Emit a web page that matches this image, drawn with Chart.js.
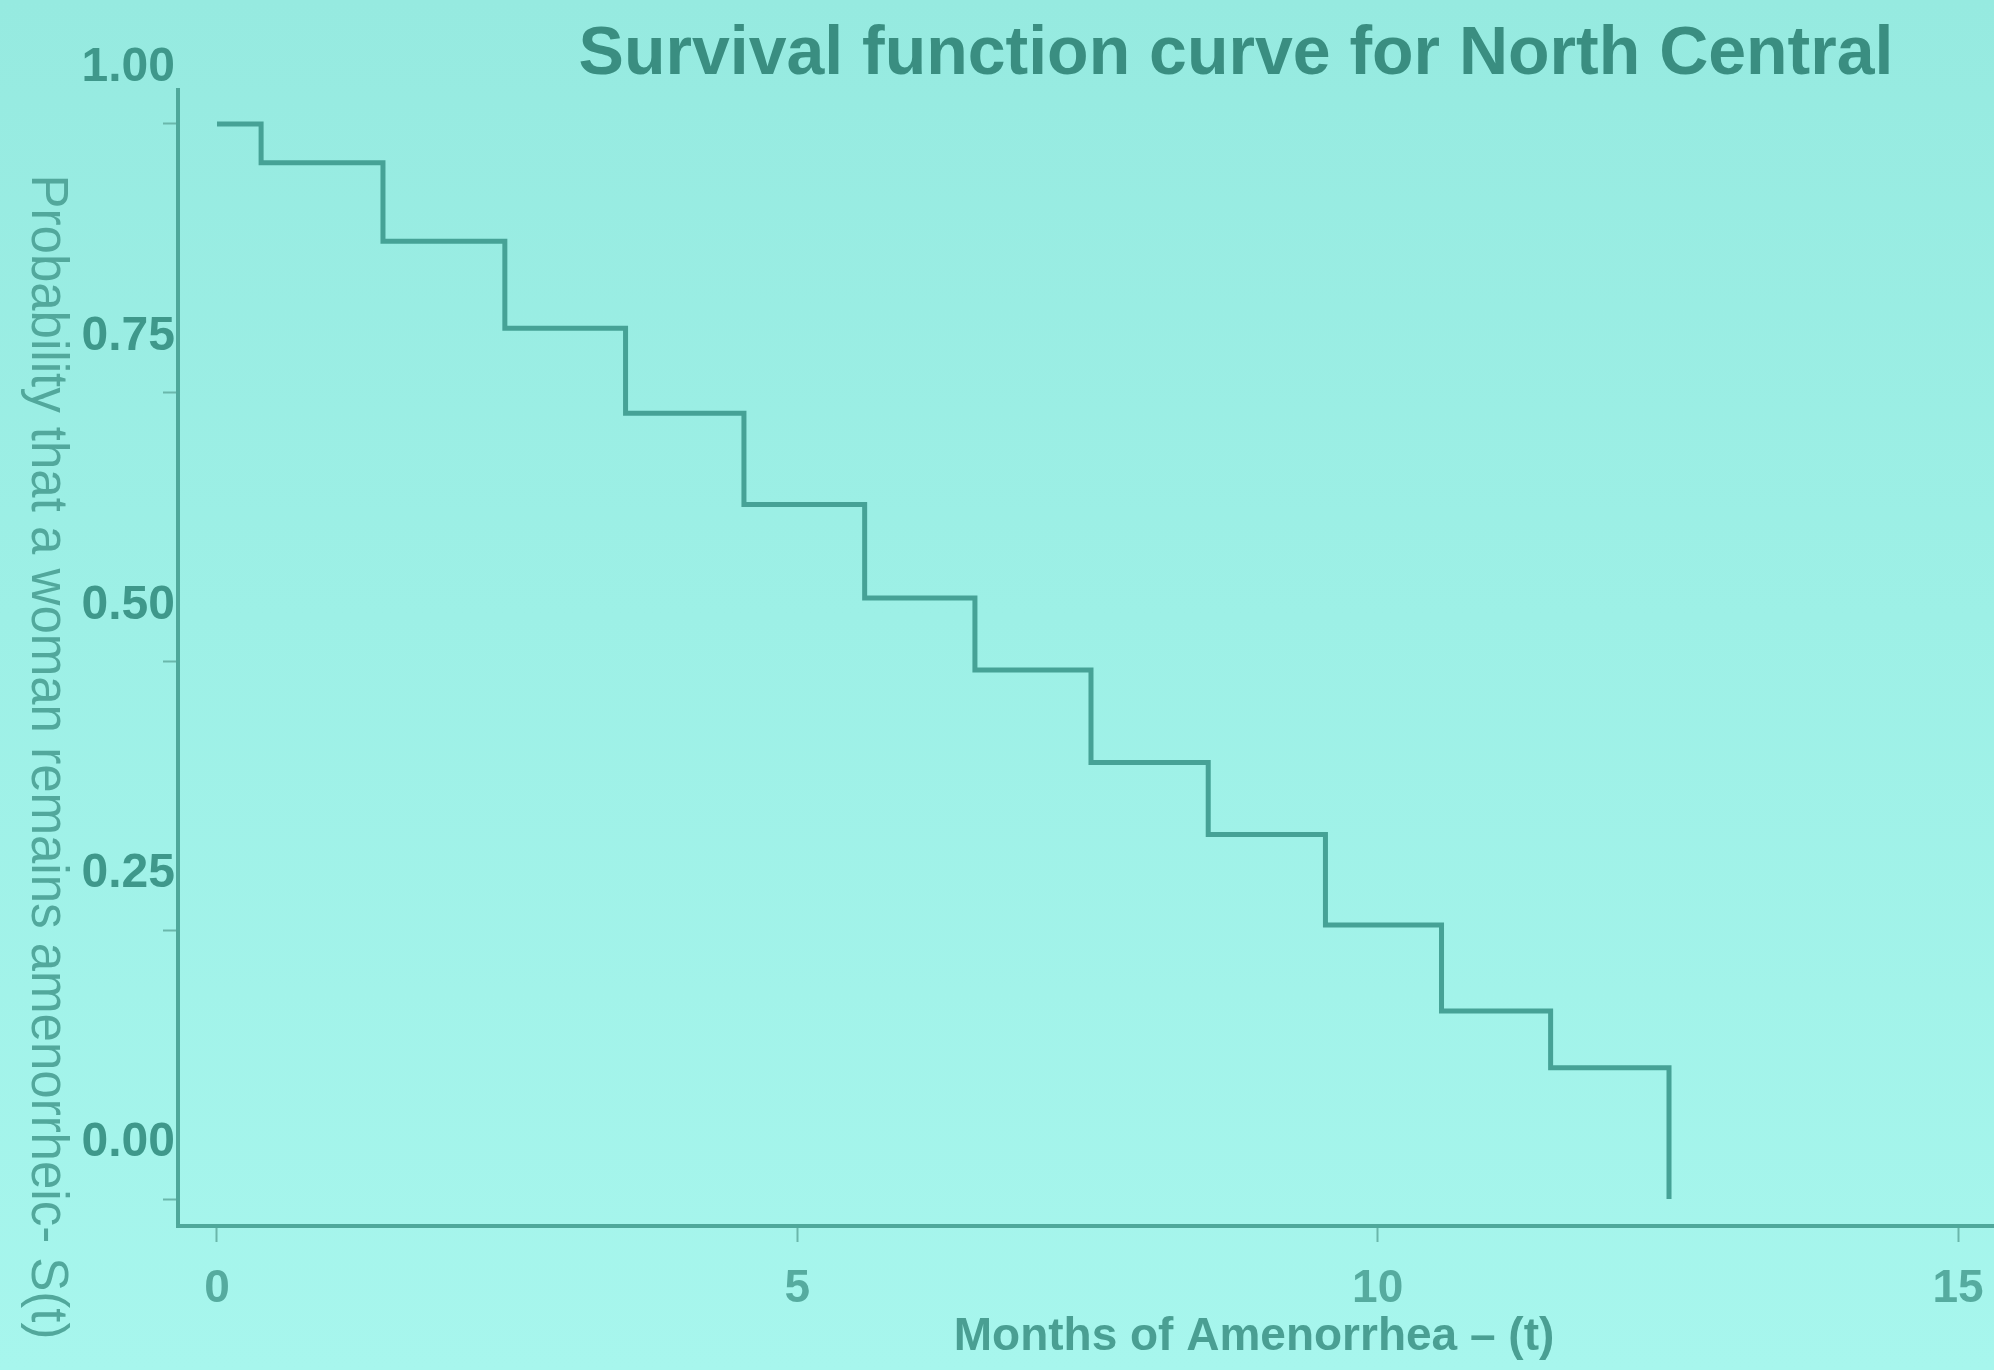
<!DOCTYPE html>
<html>
<head>
<meta charset="utf-8">
<script src="https://cdn.jsdelivr.net/npm/chart.js@4/dist/chart.umd.min.js"></script>
<style>
  html, body { margin: 0; padding: 0; overflow: hidden; }
  body { width: 1994px; height: 1370px; background: linear-gradient(to bottom, #96eae0 0%, #9df0e6 45%, #a7f6ed 100%); }
  #wrap { position: relative; width: 1994px; height: 1370px; }
</style>
</head>
<body>
<div id="wrap"><canvas id="c"></canvas></div>
<script>
// ---- data ----
const chartTitle = 'Survival function curve for North Central';
const xAxisTitle = 'Months of Amenorrhea \u2013 (t)';
const yAxisTitle = 'Probability that a woman remains amenorrheic- S(t)';
const stepTimes = [0, 0.38, 1.43, 2.48, 3.52, 4.54, 5.58, 6.53, 7.53, 8.54, 9.55, 10.55, 11.49, 12.51];
const survival  = [1.00, 0.964, 0.891, 0.810, 0.731, 0.646, 0.559, 0.492, 0.406, 0.339, 0.255, 0.175, 0.122, 0.0];
const xTicks = [0, 5, 10, 15];
const yTicks = [0, 0.25, 0.5, 0.75, 1];
const yTickLabels = ['0.00', '0.25', '0.50', '0.75', '1.00'];

const points = stepTimes.map((t, i) => ({ x: t, y: survival[i] }));

const lineColor = '#46a296';
const axisColor = '#4fa89b';

const textPlugin = {
  id: 'texts',
  afterDraw(chart) {
    const ctx = chart.ctx;
    ctx.save();
    // main title
    ctx.fillStyle = '#3a8e81';
    ctx.font = 'bold 68px "Liberation Sans", Arial, sans-serif';
    ctx.textAlign = 'center';
    ctx.textBaseline = 'alphabetic';
    ctx.fillText(chartTitle, 1236, 74);
    // x axis title
    ctx.fillStyle = '#4a9f93';
    ctx.font = 'bold 46px "Liberation Sans", Arial, sans-serif';
    ctx.fillText(xAxisTitle, 1254, 1350);
    // y axis title (reads top to bottom)
    ctx.translate(46, 757);
    ctx.rotate(Math.PI / 2);
    ctx.fillStyle = '#52a89c';
    ctx.font = '51px "Liberation Sans", Arial, sans-serif';
    ctx.textBaseline = 'middle';
    ctx.fillText(yAxisTitle, 0, 0);
    ctx.restore();
  }
};

new Chart(document.getElementById('c'), {
  type: 'scatter',
  data: {
    datasets: [{
      data: points,
      showLine: true,
      stepped: true,
      borderColor: lineColor,
      borderWidth: 5,
      pointRadius: 0,
      fill: false
    }]
  },
  options: {
    responsive: true,
    maintainAspectRatio: false,
    animation: false,
    layout: { padding: { top: 90, right: 0, left: 0, bottom: 0 } },
    plugins: { legend: { display: false }, tooltip: { enabled: false }, title: { display: false } },
    scales: {
      x: {
        type: 'linear',
        min: -0.336,
        max: 15.31,
        afterFit: (s) => { s.height = 144; s.paddingLeft = 0; s.paddingRight = 0; },
        afterBuildTicks: (s) => { s.ticks = xTicks.map(v => ({ value: v })); },
        border: { display: true, color: axisColor, width: 4 },
        grid: { drawOnChartArea: false, drawTicks: true, tickLength: 16, tickWidth: 2, tickColor: '#6ab7ab' },
        ticks: {
          color: '#56ab9f',
          font: { family: '"Liberation Sans", Arial, sans-serif', size: 46, weight: 'bold' },
          padding: 20,
          maxRotation: 0,
          callback: (v) => String(v)
        }
      },
      y: {
        type: 'linear',
        min: -0.0251,
        max: 1.0316,
        afterFit: (s) => { s.width = 178; s.paddingTop = 0; s.paddingBottom = 0; },
        afterBuildTicks: (s) => { s.ticks = yTicks.map(v => ({ value: v })); },
        border: { display: true, color: axisColor, width: 4 },
        grid: { drawOnChartArea: false, drawTicks: true, tickLength: 15, tickWidth: 2, tickColor: '#6ab7ab' },
        ticks: {
          color: '#3f988b',
          font: { family: '"Liberation Sans", Arial, sans-serif', size: 48, weight: 'bold' },
          padding: -12,
          labelOffset: -56,
          callback: (v) => yTickLabels[yTicks.indexOf(v)] ?? ''
        }
      }
    }
  },
  plugins: [textPlugin]
});
</script>
</body>
</html>
